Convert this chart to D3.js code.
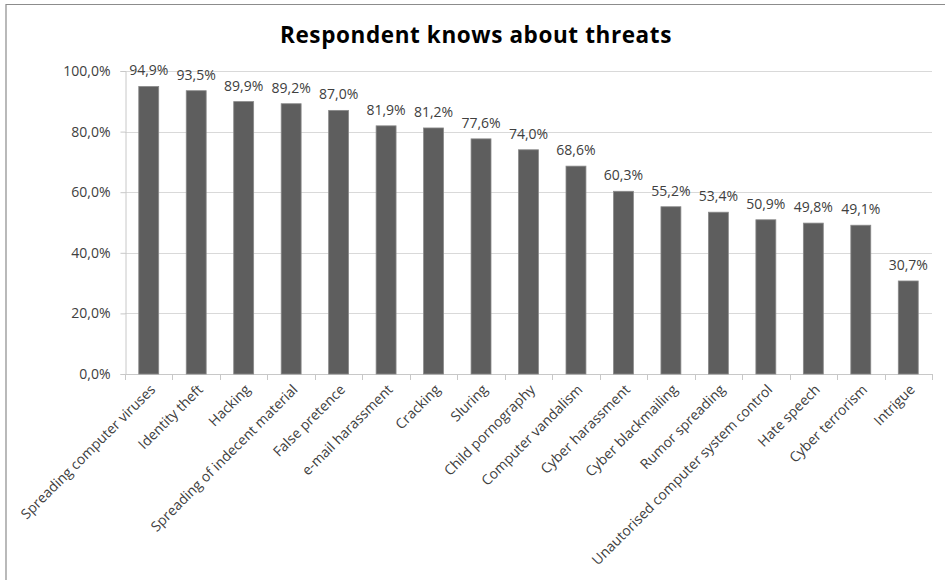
<!DOCTYPE html>
<html>
<head>
<meta charset="utf-8">
<script src="https://cdn.jsdelivr.net/npm/d3@7"></script>
<style>
  html, body { margin: 0; padding: 0; background: #fff; }
  svg { display: block; }
</style>
</head>
<body>
<svg id="chart" width="945" height="580"></svg>
<script>
// Threat awareness, share of respondents (%)
const categories = [
  "Spreading computer viruses", "Identity theft", "Hacking",
  "Spreading of indecent material", "False pretence", "e-mail harassment",
  "Cracking", "Sluring", "Child pornography", "Computer vandalism",
  "Cyber harassment", "Cyber blackmailing", "Rumor spreading",
  "Unautorised computer system control", "Hate speech", "Cyber terrorism",
  "Intrigue"
];
const values = [94.9, 93.5, 89.9, 89.2, 87.0, 81.9, 81.2, 77.6, 74.0, 68.6,
                60.3, 55.2, 53.4, 50.9, 49.8, 49.1, 30.7];
const yTicks = [0, 20, 40, 60, 80, 100];
const title = "Respondent knows about threats";

const svg = d3.select("#chart");
const font = "'Open Sans', 'Noto Sans', sans-serif";
const textColor = "#404040";

// Comma as decimal separator: 94,9%
const locale = d3.formatLocale({ decimal: ",", thousands: " ", grouping: [3], currency: ["", ""] });
const pct = v => locale.format(".1f")(v) + "%";

// chart frame
svg.append("path")
  .attr("d", "M6,580 V4.5 H945")
  .attr("fill", "none")
  .attr("stroke", "#8c8c8c")
  .attr("stroke-width", 1.2);

const plot = { left: 125, right: 932, top: 71, bottom: 374 };

const x = d3.scaleBand()
  .domain(categories)
  .range([plot.left, plot.right])
  .paddingInner(0.58)
  .paddingOuter(0.29);

const y = d3.scaleLinear()
  .domain([0, 100])
  .range([plot.bottom, plot.top]);

// title
svg.append("text")
  .attr("x", 476)
  .attr("y", 43)
  .attr("text-anchor", "middle")
  .attr("font-family", font)
  .attr("font-weight", "bold")
  .attr("font-size", 22.5)
  .attr("letter-spacing", 0.6)
  .attr("fill", "#000")
  .text(title);

// gridlines
svg.append("g")
  .selectAll("line")
  .data(yTicks.filter(t => t > 0))
  .join("line")
  .attr("x1", plot.left)
  .attr("x2", plot.right)
  .attr("y1", d => Math.round(y(d)) + 0.5)
  .attr("y2", d => Math.round(y(d)) + 0.5)
  .attr("stroke", "#d9d9d9")
  .attr("stroke-width", 1);

// y axis
const yAxis = svg.append("g")
  .attr("transform", `translate(${plot.left + 0.5},0)`)
  .call(d3.axisLeft(y).tickValues(yTicks).tickFormat(pct).tickSize(5).tickPadding(10));
yAxis.select(".domain").attr("stroke", "#c8c8c8");
yAxis.selectAll(".tick line").attr("stroke", "#c8c8c8");
yAxis.selectAll(".tick text")
  .attr("font-family", font)
  .attr("font-size", 14)
  .attr("fill", textColor);

// x axis with ticks at category boundaries
const boundaries = d3.range(categories.length + 1).map(i => plot.left + i * (plot.right - plot.left) / categories.length);
const xg = svg.append("g");
xg.append("line")
  .attr("x1", plot.left).attr("x2", plot.right)
  .attr("y1", plot.bottom + 0.5).attr("y2", plot.bottom + 0.5)
  .attr("stroke", "#c8c8c8");
xg.selectAll("line.tk")
  .data(boundaries)
  .join("line")
  .attr("class", "tk")
  .attr("x1", d => Math.round(d) + 0.5).attr("x2", d => Math.round(d) + 0.5)
  .attr("y1", plot.bottom).attr("y2", plot.bottom + 6)
  .attr("stroke", "#c8c8c8");

// bars
svg.append("g")
  .selectAll("rect")
  .data(values)
  .join("rect")
  .attr("x", (d, i) => x(categories[i]))
  .attr("y", d => y(d))
  .attr("width", x.bandwidth())
  .attr("height", d => plot.bottom - y(d))
  .attr("fill", "#5e5e5e")
  .attr("stroke", "#8a8a8a")
  .attr("stroke-width", 0.8);

// value labels
svg.append("g")
  .selectAll("text")
  .data(values)
  .join("text")
  .attr("x", (d, i) => x(categories[i]) + x.bandwidth() / 2)
  .attr("y", d => y(d) - 11)
  .attr("text-anchor", "middle")
  .attr("font-family", font)
  .attr("font-size", 14)
  .attr("fill", textColor)
  .text(d => pct(d));

// rotated category labels
svg.append("g")
  .selectAll("text")
  .data(categories)
  .join("text")
  .attr("transform", d => `translate(${x(d) + x.bandwidth() / 2 + 4},${plot.bottom + 13}) rotate(-45)`)
  .attr("text-anchor", "end")
  .attr("dy", "0.35em")
  .attr("font-family", font)
  .attr("font-size", 14)
  .attr("fill", textColor)
  .text(d => d);
</script>
</body>
</html>
